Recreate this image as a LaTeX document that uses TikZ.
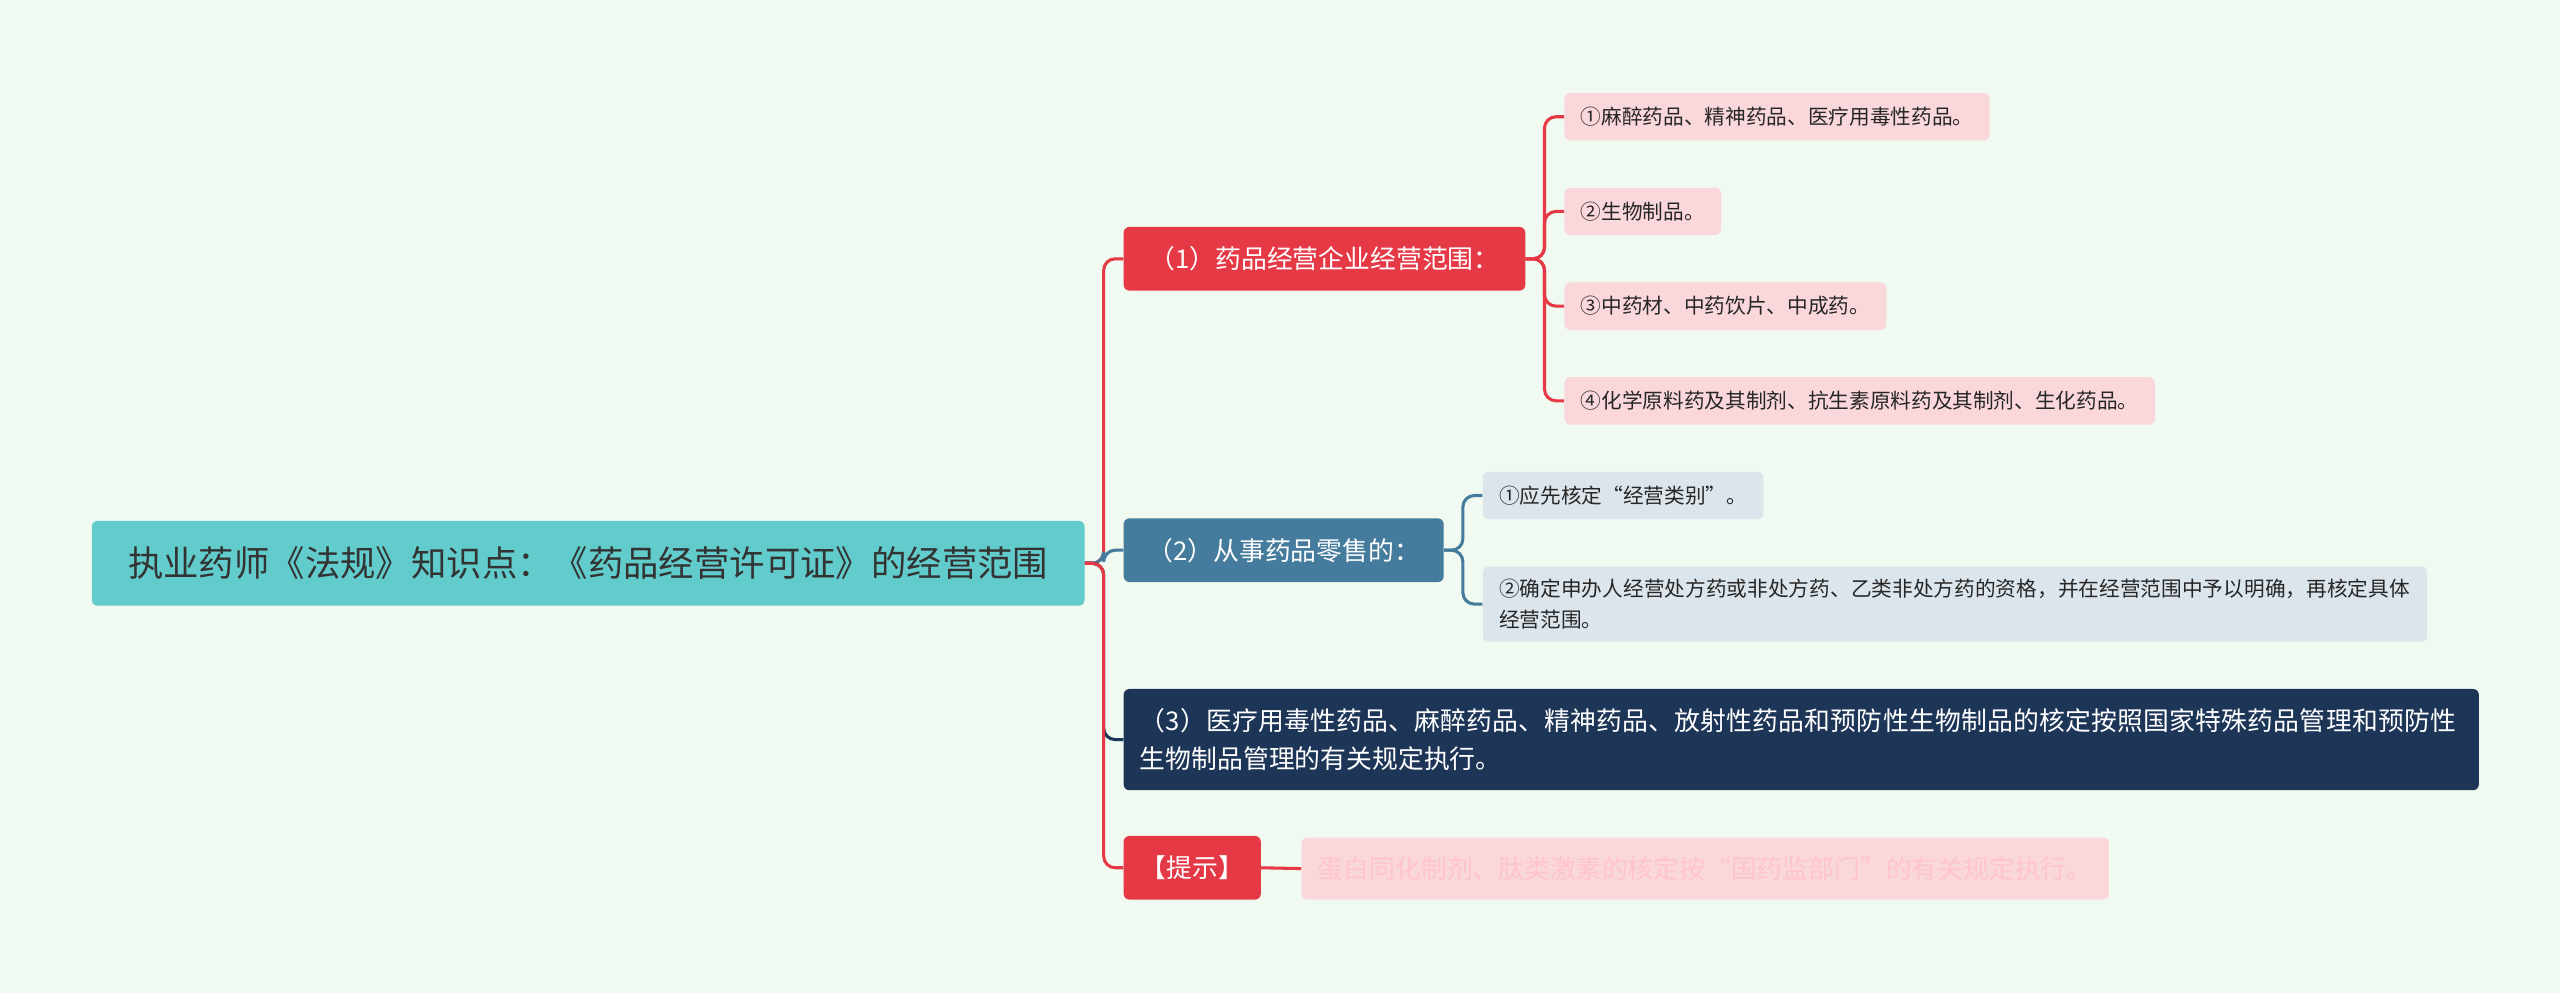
\documentclass[tikz,border=0pt]{standalone}
\usepackage{fontspec}
\setmainfont{Noto Sans CJK SC}
\XeTeXlinebreaklocale "zh"
\XeTeXlinebreakskip=0pt plus 1pt
\definecolor{bg}{HTML}{F0FAF0}
\definecolor{rootc}{HTML}{62CCCC}
\definecolor{redc}{HTML}{E63946}
\definecolor{pinkc}{HTML}{FAD7DB}
\definecolor{bluec}{HTML}{457B9D}
\definecolor{paleblue}{HTML}{DCE5EC}
\definecolor{navyc}{HTML}{1D3557}
\definecolor{faintpink}{HTML}{FFC4CC}
\tikzset{
  box/.style={rounded corners=3pt, inner xsep=0.3cm, anchor=west},
  mainbox/.style={box, fill=#1, text=white, font=\fontsize{13.5}{18}\selectfont, minimum height=1.17cm},
  leafbox/.style={box, fill=#1, text=black!85, font=\fontsize{10.8}{16}\selectfont, minimum height=0.87cm},
  link/.style={line width=1.6pt, rounded corners=6pt, draw=#1}
}
\begin{document}
\begin{tikzpicture}[x=0.03cm, y=-0.03cm]
\fill[bg] (0,0) rectangle (1568,608);
\node (root)[box, fill=rootc, text=black!80, font=\fontsize{18.5}{22}\selectfont, minimum width=18.24cm, minimum height=1.56cm, align=center] at (56,345) {执业药师《法规》知识点：《药品经营许可证》的经营范围};
\node (b1)[mainbox=redc, minimum width=7.38cm] at (688,158.5) {（1）药品经营企业经营范围：};
\node (b2)[mainbox=bluec, minimum width=5.88cm] at (688,337) {（2）从事药品零售的：};
\node (b3)[box, fill=navyc, text=white, font=\fontsize{13.5}{20}\selectfont, text width=24.3cm, align=left, minimum height=1.86cm, inner ysep=4pt] at (688,453) {（3）医疗用毒性药品、麻醉药品、精神药品、放射性药品和预防性生物制品的核定按照国家特殊药品管理和预防性生物制品管理的有关规定执行。};
\node (b4)[mainbox=redc, minimum width=2.52cm] at (688,531.5) {【提示】};
\node (t1)[box, fill=pinkc, text=faintpink, font=\fontsize{13.5}{18}\selectfont, minimum height=1.14cm] at (797,532) {蛋白同化制剂、肽类激素的核定按“国药监部门”的有关规定执行。};
\node (l1)[leafbox=pinkc] at (958,71.5) {①麻醉药品、精神药品、医疗用毒性药品。};
\node (l2)[leafbox=pinkc] at (958,129.5) {②生物制品。};
\node (l3)[leafbox=pinkc] at (958,187.5) {③中药材、中药饮片、中成药。};
\node (l4)[leafbox=pinkc] at (958,245.5) {④化学原料药及其制剂、抗生素原料药及其制剂、生化药品。};
\node (m1)[leafbox=paleblue] at (908,303.5) {①应先核定“经营类别”。};
\node (m2)[leafbox=paleblue, text width=16.75cm, align=left, minimum height=1.38cm] at (908,370) {②确定申办人经营处方药或非处方药、乙类非处方药的资格，并在经营范围中予以明确，再核定具体经营范围。};
% branches
\draw[link=redc] (root.east) -- (676,345) |- (b1.west);
\draw[link=bluec] (root.east) -- (676,345) |- (b2.west);
\draw[link=navyc] (root.east) -- (676,345) |- (b3.west);
\draw[link=redc] (root.east) -- (676,345) |- (b4.west);
\draw[link=redc] (b4.east) -- (t1.west);
% leaves
\foreach \n in {l1,l2,l3,l4}
  \draw[link=redc] (b1.east) -- (946,158.5) |- (\n.west);
\foreach \n in {m1,m2}
  \draw[link=bluec] (b2.east) -- (896,337) |- (\n.west);
\end{tikzpicture}
\end{document}
